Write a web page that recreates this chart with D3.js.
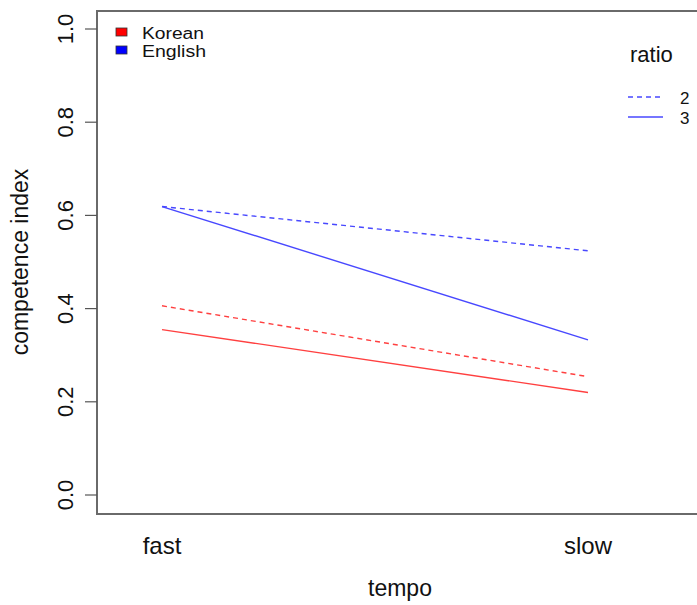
<!DOCTYPE html>
<html>
<head>
<meta charset="utf-8">
<script src="https://cdn.jsdelivr.net/npm/d3@7"></script>
<style>
  body { margin: 0; background: #fff; }
  svg text { font-family: "Liberation Sans", Arial, sans-serif; fill: #111; }
</style>
</head>
<body>
<svg id="viz"></svg>
<script>
// ----------------------------------------------------------------------------------------------------------------
// DATA

var tempo = ["fast", "slow"];
var yTicks = [0.0, 0.2, 0.4, 0.6, 0.8, 1.0];

// competence index, one small array per language x ratio
var korean2 = [0.406, 0.254];
var korean3 = [0.355, 0.220];
var english2 = [0.619, 0.524];
var english3 = [0.619, 0.333];

var languages = ["Korean", "English"];
var ratios = ["2", "3"];

// ----------------------------------------------------------------------------------------------------------------
// INITIAL SETUP

var w = 697;
var h = 605;
var viz = d3.select("#viz").attr("width", w).attr("height", h);

var box = {left: 97, top: 11, right: 705, bottom: 514};

var x = d3.scalePoint().domain(tempo).range([162, 588]);
var y = d3.scaleLinear().domain([0, 1]).range([495, 29]);

var colour = {"Korean": "#ff4040", "English": "#4848ff"};
var dash = {"2": "5,4", "3": null};

var series = [
  {lang: "Korean", ratio: "2", values: korean2},
  {lang: "Korean", ratio: "3", values: korean3},
  {lang: "English", ratio: "2", values: english2},
  {lang: "English", ratio: "3", values: english3}
];

// ----------------------------------------------------------------------------------------------------------------
// CHART

// the plot box
viz.append("rect")
  .attr("x", box.left)
  .attr("y", box.top)
  .attr("width", box.right - box.left)
  .attr("height", box.bottom - box.top)
  .attr("fill", "none")
  .attr("stroke", "#6a6a6a")
  .attr("stroke-width", 2);

// y axis ticks
var yAxis = viz.append("g");
yAxis.selectAll("line")
  .data(yTicks)
  .enter()
  .append("line")
  .attr("x1", box.left - 12)
  .attr("x2", box.left)
  .attr("y1", function(d) { return y(d); })
  .attr("y2", function(d) { return y(d); })
  .attr("stroke", "#555")
  .attr("stroke-width", 1.2);

yAxis.selectAll("text")
  .data(yTicks)
  .enter()
  .append("text")
  .text(function(d) { return d.toFixed(1); })
  .attr("transform", function(d) { return "translate(73," + y(d) + ") rotate(-90)"; })
  .attr("text-anchor", "middle")
  .style("font-size", "22px");

// x tick labels
viz.selectAll("text.tempo")
  .data(tempo)
  .enter()
  .append("text")
  .attr("class", "tempo")
  .text(function(d) { return d; })
  .attr("x", function(d) { return x(d); })
  .attr("y", 554)
  .attr("text-anchor", "middle")
  .style("font-size", "24px");

// axis titles
viz.append("text")
  .text("tempo")
  .attr("x", 400)
  .attr("y", 596)
  .attr("text-anchor", "middle")
  .style("font-size", "23px");

viz.append("text")
  .text("competence index")
  .attr("transform", "translate(28,262) rotate(-90)")
  .attr("text-anchor", "middle")
  .style("font-size", "23px");

// the lines
var line = d3.line()
  .x(function(d, i) { return x(tempo[i]); })
  .y(function(d) { return y(d); });

viz.selectAll("path.series")
  .data(series)
  .enter()
  .append("path")
  .attr("class", "series")
  .attr("d", function(d) { return line(d.values); })
  .attr("fill", "none")
  .attr("stroke", function(d) { return colour[d.lang]; })
  .attr("stroke-width", 1.4)
  .attr("stroke-dasharray", function(d) { return dash[d.ratio]; });

// language legend (top left)
var langLegend = viz.append("g");
langLegend.selectAll("rect")
  .data(languages)
  .enter()
  .append("rect")
  .attr("x", 116)
  .attr("y", function(d, i) { return 28 + i * 18; })
  .attr("width", 11)
  .attr("height", 8)
  .attr("fill", function(d) { return d == "Korean" ? "#ff0000" : "#0000ff"; })
  .attr("stroke", "#333")
  .attr("stroke-width", 0.8);

langLegend.selectAll("text")
  .data(languages)
  .enter()
  .append("text")
  .text(function(d) { return d; })
  .attr("x", 142)
  .attr("y", function(d, i) { return 38.5 + i * 18; })
  .style("font-size", "16px")
  .attr("textLength", function(d) { return d == "Korean" ? 62 : 64; })
  .attr("lengthAdjust", "spacingAndGlyphs");

// ratio legend (top right)
viz.append("text")
  .text("ratio")
  .attr("x", 630)
  .attr("y", 62)
  .style("font-size", "22px");

var ratioLegend = viz.append("g");
ratioLegend.selectAll("line")
  .data(ratios)
  .enter()
  .append("line")
  .attr("x1", 628)
  .attr("x2", 663)
  .attr("y1", function(d, i) { return 97 + i * 20; })
  .attr("y2", function(d, i) { return 97 + i * 20; })
  .attr("stroke", "#4848ff")
  .attr("stroke-width", 1.4)
  .attr("stroke-dasharray", function(d) { return dash[d]; });

ratioLegend.selectAll("text")
  .data(ratios)
  .enter()
  .append("text")
  .text(function(d) { return d; })
  .attr("x", 680)
  .attr("y", function(d, i) { return 103.5 + i * 20; })
  .style("font-size", "17px");
</script>
</body>
</html>
